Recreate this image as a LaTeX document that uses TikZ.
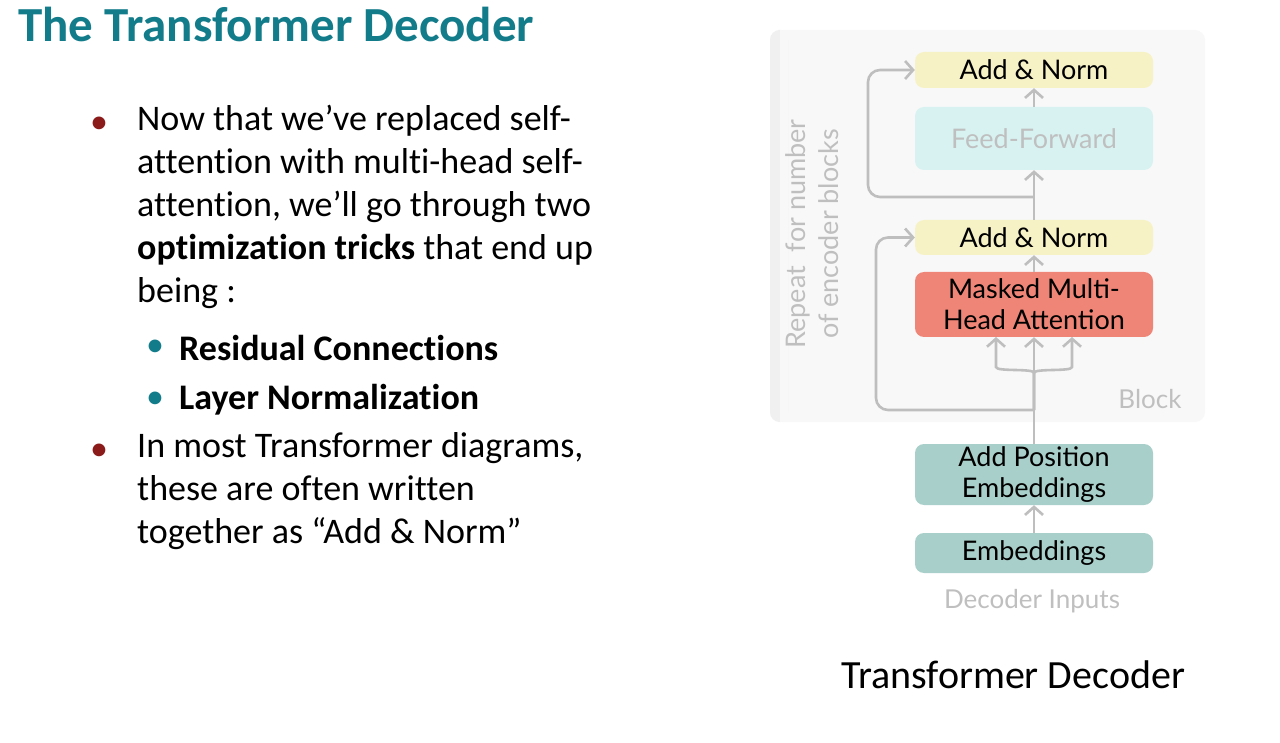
\documentclass[tikz,border=0pt]{standalone}
\usepackage{fontspec}
\setmainfont{Carlito}[Ligatures=NoCommon]
\newfontfamily\dfont{Lato}
\usetikzlibrary{arrows.meta}
\definecolor{teal1}{HTML}{137C8B}
\definecolor{redb}{HTML}{8B1A1A}
\definecolor{ayel}{HTML}{F7F2C6}
\definecolor{ffc}{HTML}{D8F2F2}
\definecolor{mha}{HTML}{EE8576}
\definecolor{emb}{HTML}{A8CFC9}
\definecolor{arr}{HTML}{BEBEBE}
\definecolor{panel}{HTML}{F8F8F8}
\begin{document}
\begin{tikzpicture}[x=1pt,y=-1pt,
  box/.style={rounded corners=9pt,minimum width=238pt,align=center,font=\dfont\fontsize{27}{31}\selectfont,inner sep=0pt},
  con/.style={draw=arr,line width=2.6pt,rounded corners=12pt},
  ar/.style={con,-{Straight Barb[length=8pt,width=18pt]}},
  btxt/.style={anchor=west,font=\fontsize{36}{43}\selectfont,align=left,inner sep=0pt},
  dot/.style={font=\fontsize{36}{40}\selectfont}]
\useasboundingbox (0,0) rectangle (1280,743);
\fill[white] (0,0) rectangle (1280,743);
\fill[panel,rounded corners=10pt] (770,30) rectangle (1205,422);
\fill[black!6,rounded corners=10pt] (770,30) rectangle (788,422);
\fill[panel] (780,30) rectangle (788,422);
% title
\node[anchor=west,inner sep=0pt,text=teal1,font=\bfseries\fontsize{49}{56}\selectfont] (title) at (18,24) {The Transformer Decoder};
% bullets
\node[text=redb,dot] (b1) at (99,125) {•};
\node[btxt,anchor=north west] (t1) at (137,105) {Now that we’ve replaced self-\\attention with multi-head self-\\attention, we’ll go through two\\\textbf{optimization tricks} that end up\\being :};
\node[text=teal1,dot] (s1) at (155,348) {•};
\node[btxt] (st1) at (179,348) {\textbf{Residual Connections}};
\node[text=teal1,dot] (s2) at (155,400) {•};
\node[btxt] (st2) at (179,400) {\textbf{Layer Normalization}};
\node[text=redb,dot] (b2) at (99,452) {•};
\node[btxt,anchor=north west] (t2) at (137,432) {In most Transformer diagrams,\\these are often written\\together as “Add \& Norm”};
% boxes
\node[box,fill=ayel,minimum height=36pt] (an1) at (1034,70) {Add \& Norm};
\node[box,fill=ffc,minimum height=63pt,text=black!25] (ff) at (1034,138.5) {Feed-Forward};
\node[box,fill=ayel,minimum height=35pt] (an2) at (1034,237.5) {Add \& Norm};
\node[box,fill=mha,minimum height=65pt] (mh) at (1034,304.5) {Masked Multi-\\Head Attention};
\node[box,fill=emb,minimum height=61pt] (ap) at (1034,474.5) {Add Position\\Embeddings};
\node[box,fill=emb,minimum height=40pt] (em) at (1034,553) {Embeddings};
\node[text=black!25,font=\dfont\fontsize{26}{30}\selectfont] (di) at (1032,601) {Decoder Inputs};
\node[text=black!25,font=\dfont\fontsize{26}{30}\selectfont] (blk) at (1150,399) {Block};
\node[rotate=90,text=black!25,align=center,font=\dfont\fontsize{27}{33}\selectfont] (rep) at (812,234) {Repeat\ \ for number\\of encoder blocks};
\node[font=\fontsize{40}{46}\selectfont] (td) at (1013,675) {Transformer Decoder};
% connectors
\coordinate (j1) at (1034,410);
\coordinate (j2) at (1034,197);
\draw[ar] (em.north) -- (ap.south);
\draw[ar] (ap.north) -- (mh.south);
\draw[ar] (j1) -- (1034,385) .. controls (1034,368) and (996,372) .. (996,355) -- (996,337);
\draw[ar] (j1) -- (1034,385) .. controls (1034,368) and (1072,372) .. (1072,355) -- (1072,337);
\draw[ar] (j1) -- (876,410) -- (876,237.5) -- (an2.west);
\draw[ar] (mh.north) -- (an2.south);
\draw[ar] (an2.north) -- (ff.south);
\draw[ar] (j2) -- (868,197) -- (868,70) -- (an1.west);
\draw[ar] (ff.north) -- (an1.south);
\end{tikzpicture}
\end{document}
